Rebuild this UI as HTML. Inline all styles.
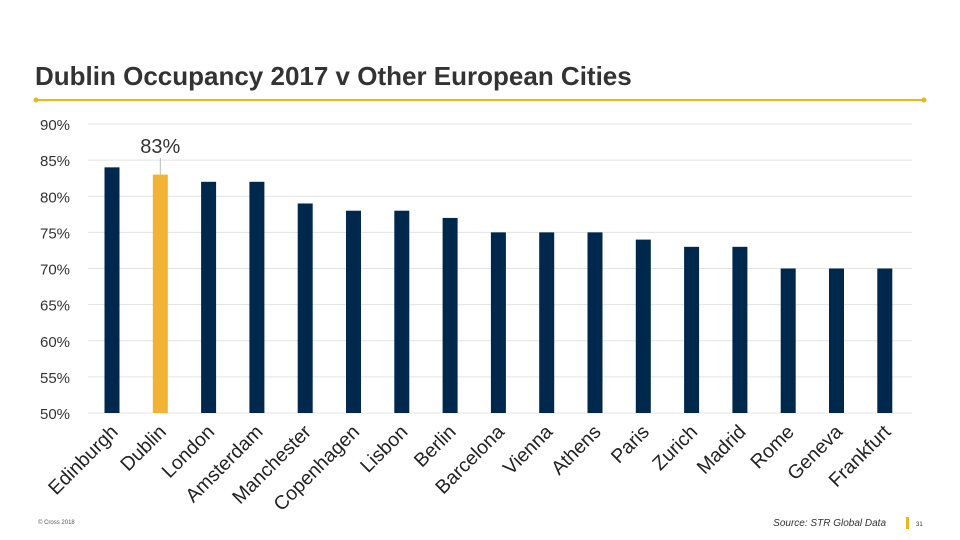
<!DOCTYPE html>
<html><head><meta charset="utf-8"><style>
body{margin:0;background:#fff;}
svg{display:block;font-family:"Liberation Sans",Arial,sans-serif;}
</style></head><body>
<svg width="960" height="540">
<text x="35" y="85" font-size="26" font-weight="bold" fill="#333">Dublin Occupancy 2017 v Other European Cities</text>
<line x1="36" y1="100" x2="924" y2="100" stroke="#EDB51E" stroke-width="2"/>
<circle cx="36" cy="100" r="2.5" fill="#EDB51E"/>
<circle cx="924" cy="100" r="2.5" fill="#EDB51E"/>
<g id="grid"></g><g id="bars"></g><g id="labels"></g>
<text x="38" y="524" font-size="6" fill="#555">© Cross 2018</text>
<text x="886" y="526" font-size="10" font-style="italic" fill="#333" text-anchor="end">Source: STR Global Data</text>
<rect x="906" y="517" width="3" height="12" fill="#EDB51E"/>
<text x="916" y="526" font-size="6" fill="#333">31</text>
</svg>
<script>
const cities=["Edinburgh","Dublin","London","Amsterdam","Manchester","Copenhagen","Lisbon","Berlin","Barcelona","Vienna","Athens","Paris","Zurich","Madrid","Rome","Geneva","Frankfurt"];
const values=[84,83,82,82,79,78,78,77,75,75,75,74,73,73,70,70,70];
const ticks=[50,55,60,65,70,75,80,85,90];
const NS="http://www.w3.org/2000/svg";
const y=v=>413-(v-50)*(289/40);
const x=i=>112+i*48.3;
function mk(t,a,p){const e=document.createElementNS(NS,t);for(const k in a)e.setAttribute(k,a[k]);p.appendChild(e);return e;}
const grid=document.getElementById('grid'),bars=document.getElementById('bars'),labels=document.getElementById('labels');
ticks.forEach(t=>{
 const l=mk('line',{x1:88,x2:912,y1:y(t),y2:y(t),stroke:'#e3e3e3','stroke-width':1},grid);
 
 
 const tx=mk('text',{x:40,y:y(t)+6,'font-size':15,fill:'#333'},grid);tx.textContent=t+'%';
 
 
});
cities.forEach((c,i)=>{
 const r=mk('rect',{x:x(i)-7.5,y:y(values[i]),width:15,height:y(50)-y(values[i]),fill:c==='Dublin'?'#F2B233':'#00274C'},bars);
 
 
 const ax=x(i)+7, ay=433;
 const t=mk('text',{x:ax,y:ay,'font-size':19.5,fill:'#222','text-anchor':'end',transform:`rotate(-45 ${ax} ${ay})`},labels);t.textContent=c;
 
 
 if(c==='Dublin'){
  const ln=mk('line',{x1:x(i),x2:x(i),y1:158,y2:y(values[i]),stroke:'#bbb'},labels);
  
  
  const v=mk('text',{x:x(i),y:153,'font-size':20,fill:'#333','text-anchor':'middle'},labels);v.textContent=values[i]+'%';
  
  
 }
});
</script>
</body></html>
